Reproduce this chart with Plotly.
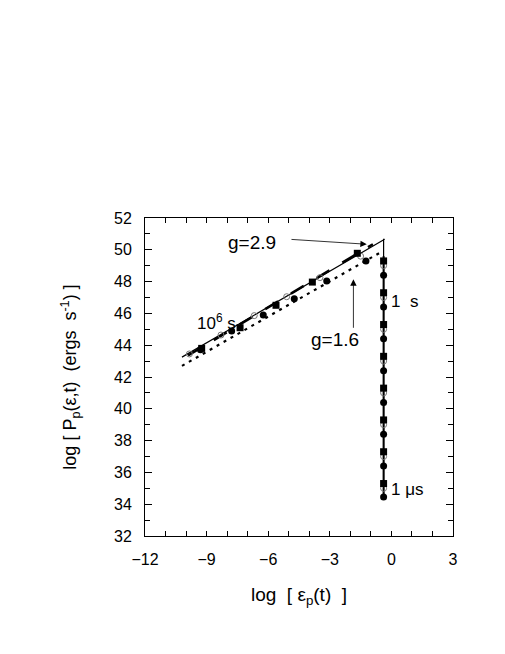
import plotly.graph_objects as go

# Lines
solid_x = [-10.2, -0.33, -0.38, -0.38]
solid_y = [43.25, 50.66, 50.66, 34.6]
dash_x = [-9.9, -0.9]
dash_y = [43.35, 50.35]
dot_x = [-10.2, -0.45]
dot_y = [42.7, 49.9]

# Markers on diagonal
sq_x = [-9.24, -7.37, -5.62, -3.85, -1.66]
sq_y = [43.80, 45.10, 46.51, 47.97, 49.78]
fc_x = [-9.3, -7.78, -6.24, -4.73, -3.15, -1.24]
fc_y = [43.72, 44.89, 45.90, 46.92, 48.04, 49.30]
oc_x = [-9.84, -8.30, -6.68, -5.10, -3.48, -1.5]
oc_y = [43.45, 44.64, 45.86, 47.05, 48.25, 49.6]

# Markers on vertical
vx = -0.38
vsq_y = [49.3, 47.3, 45.3, 43.3, 41.3, 39.3, 37.3, 35.3]
voc_y = [49.0, 47.0, 45.0, 43.0, 41.0, 39.0, 37.0, 35.0]
vfc_y = [48.4, 46.4, 44.4, 42.4, 40.4, 38.4, 36.4, 34.45]

fig = go.Figure()
fig.add_trace(go.Scatter(x=solid_x, y=solid_y, mode="lines",
                         line=dict(color="black", width=1.2), showlegend=False))
fig.add_trace(go.Scatter(x=dash_x, y=dash_y, mode="lines",
                         line=dict(color="black", width=2.5, dash="longdash"), showlegend=False))
fig.add_trace(go.Scatter(x=dot_x, y=dot_y, mode="lines",
                         line=dict(color="black", width=2.2, dash="3px,5px"), showlegend=False))
fig.add_trace(go.Scatter(x=[vx, vx], y=[49.6, 34.45], mode="lines",
                         line=dict(color="black", width=2), showlegend=False))

fig.add_trace(go.Scatter(x=oc_x + [vx]*len(voc_y), y=oc_y + voc_y, mode="markers",
                         marker=dict(symbol="circle-open", size=6, color="#777", line=dict(width=1)),
                         showlegend=False))
fig.add_trace(go.Scatter(x=fc_x + [vx]*len(vfc_y), y=fc_y + vfc_y, mode="markers",
                         marker=dict(symbol="circle", size=7, color="black"), showlegend=False))
fig.add_trace(go.Scatter(x=sq_x + [vx]*len(vsq_y), y=sq_y + vsq_y, mode="markers",
                         marker=dict(symbol="square", size=7, color="black"), showlegend=False))

font = "Liberation Sans, Arial, sans-serif"
ann = [
    dict(x=-6.81, y=50.43, text="g=2.9", showarrow=False, font=dict(size=19)),
    dict(x=-1.2, y=50.35, ax=-4.94, ay=50.66, axref="x", ayref="y", text="",
         showarrow=True, arrowhead=2, arrowsize=1.6, arrowwidth=0.8, arrowcolor="black"),
    dict(x=-2.75, y=44.33, text="g=1.6", showarrow=False, font=dict(size=19)),
    dict(x=-1.85, y=48.14, ax=-1.85, ay=45.0, axref="x", ayref="y", text="",
         showarrow=True, arrowhead=2, arrowsize=1.6, arrowwidth=0.8, arrowcolor="black"),
    dict(x=-8.54, y=45.46, text="10<sup>6</sup> s", showarrow=False, font=dict(size=17)),
    dict(x=0.65, y=46.78, text="1  s", showarrow=False, font=dict(size=17)),
    dict(x=0.78, y=34.95, text="1 μs", showarrow=False, font=dict(size=17)),
]

fig.update_layout(
    width=505, height=654,
    margin=dict(l=137, r=60, t=210, b=126),
    paper_bgcolor="white", plot_bgcolor="white",
    font=dict(family=font, color="black", size=16),
    annotations=ann,
    xaxis=dict(range=[-12, 3], tickvals=[-12, -9, -6, -3, 0, 3],
               ticks="inside", ticklen=5, tickcolor="black",
               minor=dict(dtick=1, ticks="inside", ticklen=5, tickcolor="black"),
               showline=True, linecolor="black", linewidth=1, mirror="ticks",
               showgrid=False, zeroline=False, ticklabelstandoff=9,
               title=dict(text="log  [ ε<sub>p</sub>(t)  ]", font=dict(size=19), standoff=20)),
    yaxis=dict(range=[32, 52], dtick=2,
               ticks="inside", ticklen=7, tickcolor="black",
               minor=dict(dtick=1, ticks="inside", ticklen=5, tickcolor="black"),
               showline=True, linecolor="black", linewidth=1, mirror="ticks",
               showgrid=False, zeroline=False, ticklabelstandoff=9,
               title=dict(text="log [ P<sub>p</sub>(ε,t)  (ergs  s<sup>-1</sup>) ]",
                          font=dict(size=18), standoff=32)),
)
fig.write_html("out.html")
